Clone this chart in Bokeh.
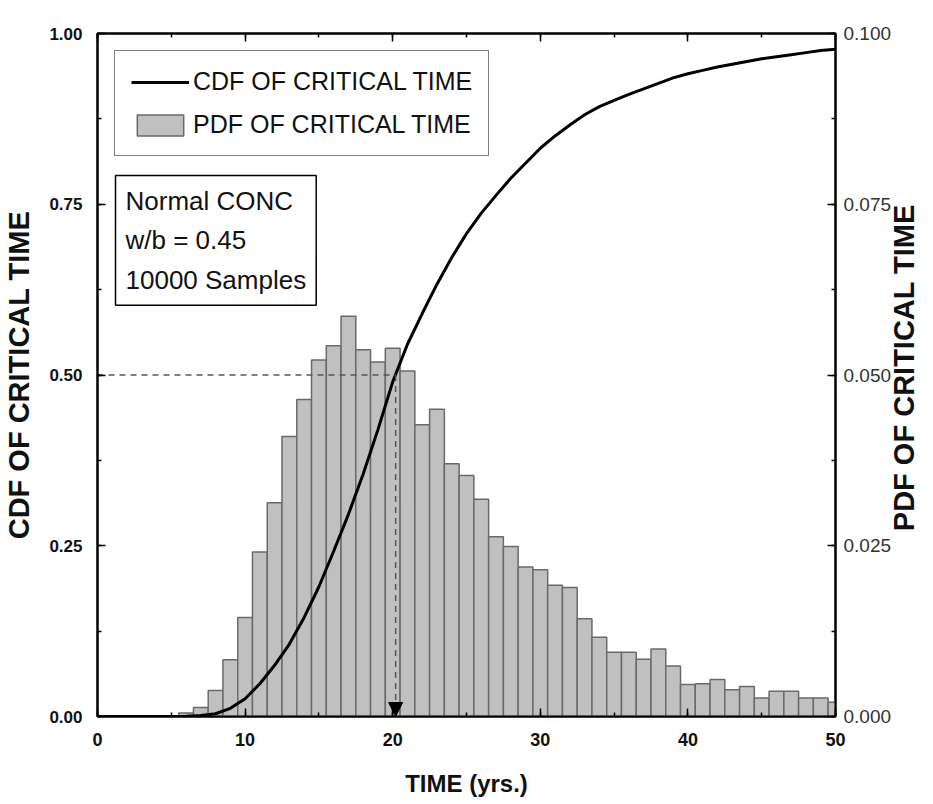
import math
from bokeh.plotting import figure
from bokeh.models import (LinearAxis, Range1d, SingleIntervalTicker, Legend, LegendItem,
                          Label, Arrow, NormalHead, NumeralTickFormatter)
from bokeh.embed import file_html
from bokeh.resources import INLINE

# ---- data ----
pdf_years = list(range(6, 51))
pdf_values = [0.0005, 0.0013, 0.0038, 0.0083, 0.0145, 0.0241, 0.0313, 0.0410, 0.0464, 0.0522,
              0.0543, 0.0586, 0.0537, 0.0519, 0.0539, 0.0506, 0.0427, 0.0450, 0.0370, 0.0353,
              0.0318, 0.0263, 0.0249, 0.0219, 0.0215, 0.0192, 0.0189, 0.0143, 0.0116, 0.0094,
              0.0094, 0.0084, 0.0099, 0.0074, 0.0047, 0.0048, 0.0054, 0.0039, 0.0044, 0.0027,
              0.0037, 0.0037, 0.0027, 0.0027, 0.0021]

cdf_t = [0, 5, 6, 7, 8, 9, 10, 11, 12, 13, 14, 15, 16, 17, 18, 19, 20, 21, 22, 23, 24, 25,
         26, 27, 28, 29, 30, 31, 32, 33, 34, 35, 36, 37, 38, 39, 40, 41, 42, 43, 44, 45,
         46, 47, 48, 49, 50]
cdf_values = [0, 0, 0.0005, 0.0015, 0.004, 0.012, 0.026, 0.048, 0.075, 0.106, 0.145, 0.19,
              0.242, 0.296, 0.355, 0.42, 0.49, 0.545, 0.59, 0.633, 0.672, 0.707, 0.737, 0.763,
              0.788, 0.81, 0.832, 0.85, 0.866, 0.881, 0.893, 0.902, 0.911, 0.919, 0.927, 0.935,
              0.941, 0.946, 0.951, 0.955, 0.959, 0.963, 0.966, 0.969, 0.972, 0.975, 0.977]

median_time = 20.2
median_cdf = 0.5
info_lines = ["Normal CONC", "w/b = 0.45", "10000 Samples"]

FONT = "Liberation Sans"
INK = "#111111"

p = figure(frame_width=738, frame_height=683, x_range=Range1d(0, 50), y_range=Range1d(0, 1),
           output_backend="svg", toolbar_location=None,
           min_border_left=90, min_border_top=33, min_border_bottom=70, min_border_right=10)
p.extra_y_ranges = {"pdf": Range1d(0, 0.1)}
p.grid.visible = False
p.outline_line_color = "black"
p.outline_line_width = 2
p.background_fill_color = "white"
p.border_fill_color = "white"

bars = p.vbar(x=pdf_years, width=1, top=pdf_values, y_range_name="pdf",
              fill_color="#c0c0c0", line_color="#6a6a6a", line_width=1.5)
cdf_line = p.line(cdf_t, cdf_values, line_color="black", line_width=3)

# median guide lines
p.line([0, median_time], [median_cdf, median_cdf], line_dash="6 5", line_color="#555555",
       line_width=1.5)
p.add_layout(Arrow(x_start=median_time, y_start=median_cdf, x_end=median_time, y_end=0,
                   line_dash="6 5", line_color="#555555", line_width=1.5,
                   end=NormalHead(size=14, fill_color="black", line_color="black")))

def style_axis(ax):
    ax.axis_line_color = "black"
    ax.axis_line_width = 2
    ax.major_tick_in = 8
    ax.major_tick_out = 0
    ax.minor_tick_in = 4
    ax.minor_tick_out = 0
    ax.major_tick_line_width = 1.5
    ax.minor_tick_line_width = 1.5

# bottom axis
xa = p.xaxis[0]
xa.ticker = SingleIntervalTicker(interval=10, num_minor_ticks=2)
style_axis(xa)
xa.major_label_text_font = FONT
xa.major_label_text_font_style = "bold"
xa.major_label_text_font_size = "18px"
xa.major_label_text_color = INK
xa.major_label_standoff = 16
xa.axis_label = "TIME (yrs.)"
xa.axis_label_text_font = FONT
xa.axis_label_text_font_style = "bold"
xa.axis_label_text_font_size = "24px"
xa.axis_label_standoff = 21
xa.axis_label_text_color = INK

# left axis
ya = p.yaxis[0]
ya.ticker = SingleIntervalTicker(interval=0.25, num_minor_ticks=2)
ya.formatter = NumeralTickFormatter(format="0.00")
style_axis(ya)
ya.major_label_text_font = FONT
ya.major_label_text_font_style = "bold"
ya.major_label_text_font_size = "17px"
ya.major_label_text_color = INK
ya.major_label_standoff = 15
ya.axis_label = "CDF OF CRITICAL TIME"
ya.axis_label_text_font = FONT
ya.axis_label_text_font_style = "bold"
ya.axis_label_text_font_size = "29px"
ya.axis_label_standoff = 11
ya.axis_label_text_color = INK

# right axis, label reading bottom-to-top (anchored at the axis start,
# leading no-break spaces lift it to the middle)
ra = LinearAxis(y_range_name="pdf", ticker=SingleIntervalTicker(interval=0.025, num_minor_ticks=2),
                formatter=NumeralTickFormatter(format="0.000"))
style_axis(ra)
ra.major_label_text_font = FONT
ra.major_label_text_font_size = "19px"
ra.major_label_text_color = "#333333"
ra.major_label_standoff = 8
ra.axis_label = "\u00a0" * 23 + "PDF OF CRITICAL TIME"
ra.axis_label_text_font = FONT
ra.axis_label_text_font_style = "bold"
ra.axis_label_text_font_size = "29px"
ra.axis_label_standoff = 10
ra.axis_label_text_color = INK
ra.axis_label_orientation = math.pi / 2
ra.axis_label_align = "start"
p.add_layout(ra, "right")

# top axis (ticks only)
ta = LinearAxis(ticker=SingleIntervalTicker(interval=10, num_minor_ticks=2),
                major_label_text_color=None, major_label_text_font_size="1px",
                major_label_standoff=0)
style_axis(ta)
p.add_layout(ta, "above")

legend = Legend(items=[LegendItem(label="CDF OF CRITICAL TIME", renderers=[cdf_line]),
                       LegendItem(label="PDF OF CRITICAL TIME", renderers=[bars])],
                location="top_left", margin=17, padding=16, spacing=14,
                glyph_width=58, glyph_height=26, label_standoff=4,
                border_line_color="black", border_line_width=1.5,
                label_text_font=FONT, label_text_font_size="25px",
                label_text_color=INK, background_fill_alpha=1)
p.add_layout(legend)

info = Label(x=1.22, y=0.792, text="\n".join(info_lines), anchor="top_left",
             text_font=FONT, text_font_size="26px", text_color=INK,
             text_line_height=1.33, padding=10,
             border_line_color="black", border_line_width=1.5,
             background_fill_color="white")
p.add_layout(info)

open("out.html", "w").write(file_html(p, INLINE))
